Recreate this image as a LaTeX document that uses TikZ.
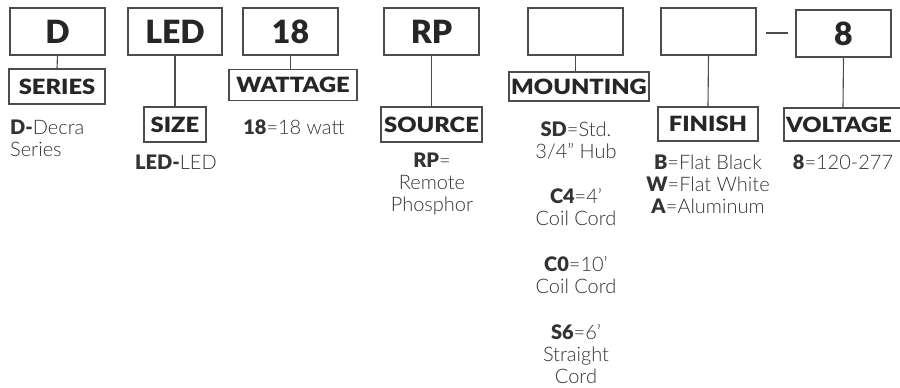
\documentclass[tikz,border=0pt]{standalone}
\usepackage{fontspec}
\setmainfont{Lato Light}[BoldFont={Lato Black}]
\newfontfamily\lblfont{Lato Black}[FakeStretch=1.13]
\begin{document}
\begin{tikzpicture}[x=1pt,y=-1pt,
  edge/.style={draw=black!70,line width=1.3pt},
  codebox/.style={edge,rectangle,inner sep=0pt,minimum width=95pt,minimum height=47pt,
     text=black!85,font=\fontsize{32}{32}\selectfont\bfseries},
  labelbox/.style={edge,rectangle,inner sep=0pt,minimum height=34pt,
     text=black!85,font=\fontsize{21}{21}\selectfont\lblfont},
  desc/.style={text=black!80,font=\fontsize{20}{22}\selectfont,align=center,inner sep=0pt},
  conn/.style={draw=black!70,line width=1.1pt}]
\clip (0,0) rectangle (900,388);
\useasboundingbox (0,0) rectangle (900,388);
% top code boxes
\node[codebox] (cD) at (57.5,31.5) {D};
\node[codebox,minimum width=94pt] (cLED) at (175,31.5) {LED};
\node[codebox] (c18) at (290.5,31.5) {18};
\node[codebox] (cRP) at (431.5,31.5) {RP};
\node[codebox] (cM) at (575.5,31.5) {};
\node[codebox] (cF) at (708.5,31.5) {};
\node[codebox] (c8) at (843.5,33.5) {8};
% dash
\coordinate (dashA) at (766,33);
\coordinate (dashB) at (788,33);
\draw[conn,line width=1.8pt] (dashA) -- (dashB);
% label boxes
\node[labelbox,minimum width=96pt,minimum height=35pt] (lS) at (57,86.5) {SERIES};
\node[labelbox,minimum width=62pt,minimum height=35pt] (lSZ) at (175,124.5) {SIZE};
\node[labelbox,minimum width=128pt,minimum height=31pt] (lW) at (293,85) {WATTAGE};
\node[labelbox,minimum width=101pt,minimum height=35pt] (lSO) at (431.5,124.5) {SOURCE};
\node[labelbox,minimum width=140pt,minimum height=29pt] (lM) at (579,86.5) {MOUNTING};
\node[labelbox,minimum width=100pt,minimum height=34pt] (lF) at (708,124) {FINISH};
\node[labelbox,minimum width=118pt,minimum height=33pt,text width=114pt,align=left] (lV) at (843,124.5) {VOLTAGE};
% connectors
\draw[conn] (cD.south) -- (lS.north);
\draw[conn] (cLED.south) -- (lSZ.north);
\draw[conn] (c18.south) -- (c18.south |- lW.north);
\draw[conn] (cRP.south) -- (lSO.north);
\draw[conn] (cM.south) -- (cM.south |- lM.north);
\draw[conn] (cF.south) -- (lF.north);
\draw[conn] (c8.south) -- (lV.north);
% descriptions
\node[desc,anchor=west,align=left] (dD) at (10,138) {\textbf{D-}Decra\\Series};
\node[desc] (dLED) at (176,162) {\textbf{LED-}LED};
\node[desc] (d18) at (294,127) {\textbf{18}=18 watt};
\node[desc] (dRP) at (432,184) {\textbf{RP}=\\Remote\\Phosphor};
\node[desc] (dSD) at (576,141) {\textbf{SD}=Std.\\3/4'' Hub};
\node[desc] (dC4) at (576,207.5) {\textbf{C4}=4'\\Coil Cord};
\node[desc] (dC0) at (576,275.5) {\textbf{C0}=10'\\Coil Cord};
\node[desc] (dS6) at (576,354.5) {\textbf{S6}=6'\\Straight\\Cord};
\node[desc] (dF) at (708,184.5) {\textbf{B}=Flat Black\\\textbf{W}=Flat White\\\textbf{A}=Aluminum};
\node[desc] (dV) at (843,162) {\textbf{8}=120-277};
\end{tikzpicture}
\end{document}
